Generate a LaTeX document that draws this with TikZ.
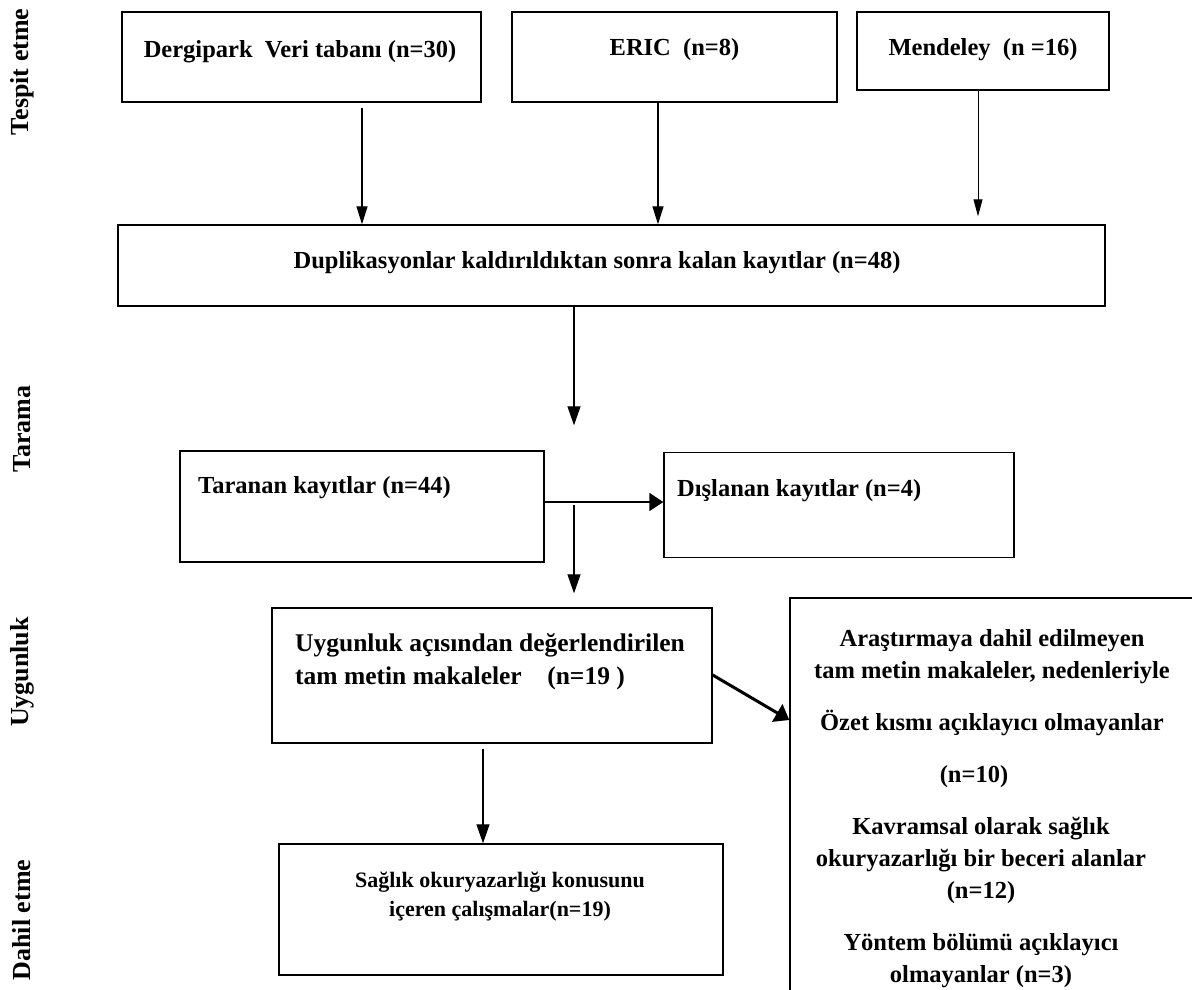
\documentclass[tikz,border=0pt]{standalone}
\usepackage{fontspec}
\setmainfont{Liberation Serif}
\usetikzlibrary{arrows.meta}

\tikzset{
  kutu/.style={draw, line width=1.4pt, rectangle, inner sep=0pt},
  yazi/.style={font=\bfseries\fontsize{24.5}{29}\selectfont, inner sep=0pt},
  evre/.style={font=\bfseries\fontsize{26}{30}\selectfont, rotate=90, inner sep=0pt},
  ok/.style={line width=1.2pt, -{Triangle[length=18pt,width=11pt]}},
}

\begin{document}
\begin{tikzpicture}[x=1pt,y=-1pt]
      \clip (0,0) rectangle (1192,989);

      % evreler
      \node[evre] (tespit) at (22,72) {Tespit etme};
      \node[evre] (tarama) at (22,429) {Tarama};
      \node[evre] (uygunluk) at (22,672) {Uygunluk};
      \node[evre] (dahil) at (22,920) {Dahil etme};

      % kutular
      \node[kutu, minimum width=359pt, minimum height=90pt] (dergi) at (301.5,57) {};
      \node[kutu, minimum width=325pt, minimum height=90pt] (eric) at (674.5,57) {};
      \node[kutu, minimum width=252pt, minimum height=78pt] (mend) at (983,51) {};
      \node[kutu, minimum width=987pt, minimum height=81pt] (dupl) at (611.5,265.5) {};
      \node[kutu, minimum width=364pt, minimum height=111pt] (taranan) at (362,506.5) {};
      \node[kutu, minimum width=350pt, minimum height=105pt] (dislanan) at (839,505) {};
      \node[kutu, minimum width=440pt, minimum height=135pt] (uyg) at (492,675.5) {};
      \node[kutu, minimum width=444pt, minimum height=131pt] (saglik) at (501,909.5) {};
      \node[kutu, minimum width=420pt, minimum height=412pt] (disari) at (1000,804) {};

      % yazilar
      \node[yazi] (dergiyazi) at (300,52) {Dergipark\ \ Veri tabanı (n=30)};
      \node[yazi] (ericyazi) at (674.5,50) {ERIC\ \ (n=8)};
      \node[yazi] (mendyazi) at (983,50) {Mendeley\ \ (n =16)};
      \node[yazi] (duplyazi) at (597,263) {Duplikasyonlar kaldırıldıktan sonra kalan kayıtlar (n=48)};
      \node[yazi, anchor=west] (tarananyazi) at (198,488) {Taranan kayıtlar (n=44)};
      \node[yazi, anchor=west] (dislananyazi) at (677,491) {Dışlanan kayıtlar (n=4)};
      \node[yazi, anchor=west, align=left, font=\bfseries\fontsize{25.5}{33}\selectfont] (uygyazi) at (295,661.5)
        {Uygunluk açısından değerlendirilen\\tam metin makaleler\ \ \ \ (n=19 )};
      \node[yazi, align=center, font=\bfseries\fontsize{22}{29}\selectfont] (saglikyazi) at (500,897)
        {Sağlık okuryazarlığı konusunu\\içeren çalışmalar(n=19)};
      \node[yazi, anchor=north, align=center, font=\bfseries\fontsize{24.5}{32}\selectfont] (disariyazi) at (992,629)
        {Araştırmaya dahil edilmeyen\\tam metin makaleler, nedenleriyle\\[20pt]
         Özet kısmı açıklayıcı olmayanlar\\[20pt]
         (n=10)\kern36pt\\[20pt]
         Kavramsal olarak sağlık\kern22pt\\okuryazarlığı bir beceri alanlar\kern22pt\\(n=12)\kern22pt\\[20pt]
         Yöntem bölümü açıklayıcı\kern22pt\\olmayanlar (n=3)\kern22pt};

      % oklar
      \coordinate (ayrim) at (574,505);
      \draw[ok, shorten <=5pt] (dergi.south -| 362,0) -- (dupl.north -| 362,0);
      \draw[ok] (eric.south -| 658,0) -- (dupl.north -| 658,0);
      \draw[ok, line width=0.9pt, -{Triangle[length=17pt,width=9pt]}, shorten >=8pt] (mend.south -| 978,0) -- (dupl.north -| 978,0);
      \draw[ok, -{Triangle[length=19pt,width=13pt]}, shorten >=25pt] (dupl.south -| 574,0) -- (taranan.north -| 574,0);
      \draw[line width=1.8pt, -{Triangle[length=14pt,width=18pt]}] (taranan.east |- 0,502) -- (dislanan.west |- 0,502);
      \draw[ok, -{Triangle[length=19pt,width=13pt]}, shorten >=14pt] (ayrim) -- (uyg.north -| ayrim);
      \draw[line width=3pt, -{Triangle[length=14pt,width=20pt]}] (uyg.east |- 0,675) -- (disari.west |- 0,720);
      \draw[ok, -{Triangle[length=19pt,width=13pt]}, shorten <=5pt] (uyg.south -| 483,0) -- (saglik.north -| 483,0);
\end{tikzpicture}
\end{document}
